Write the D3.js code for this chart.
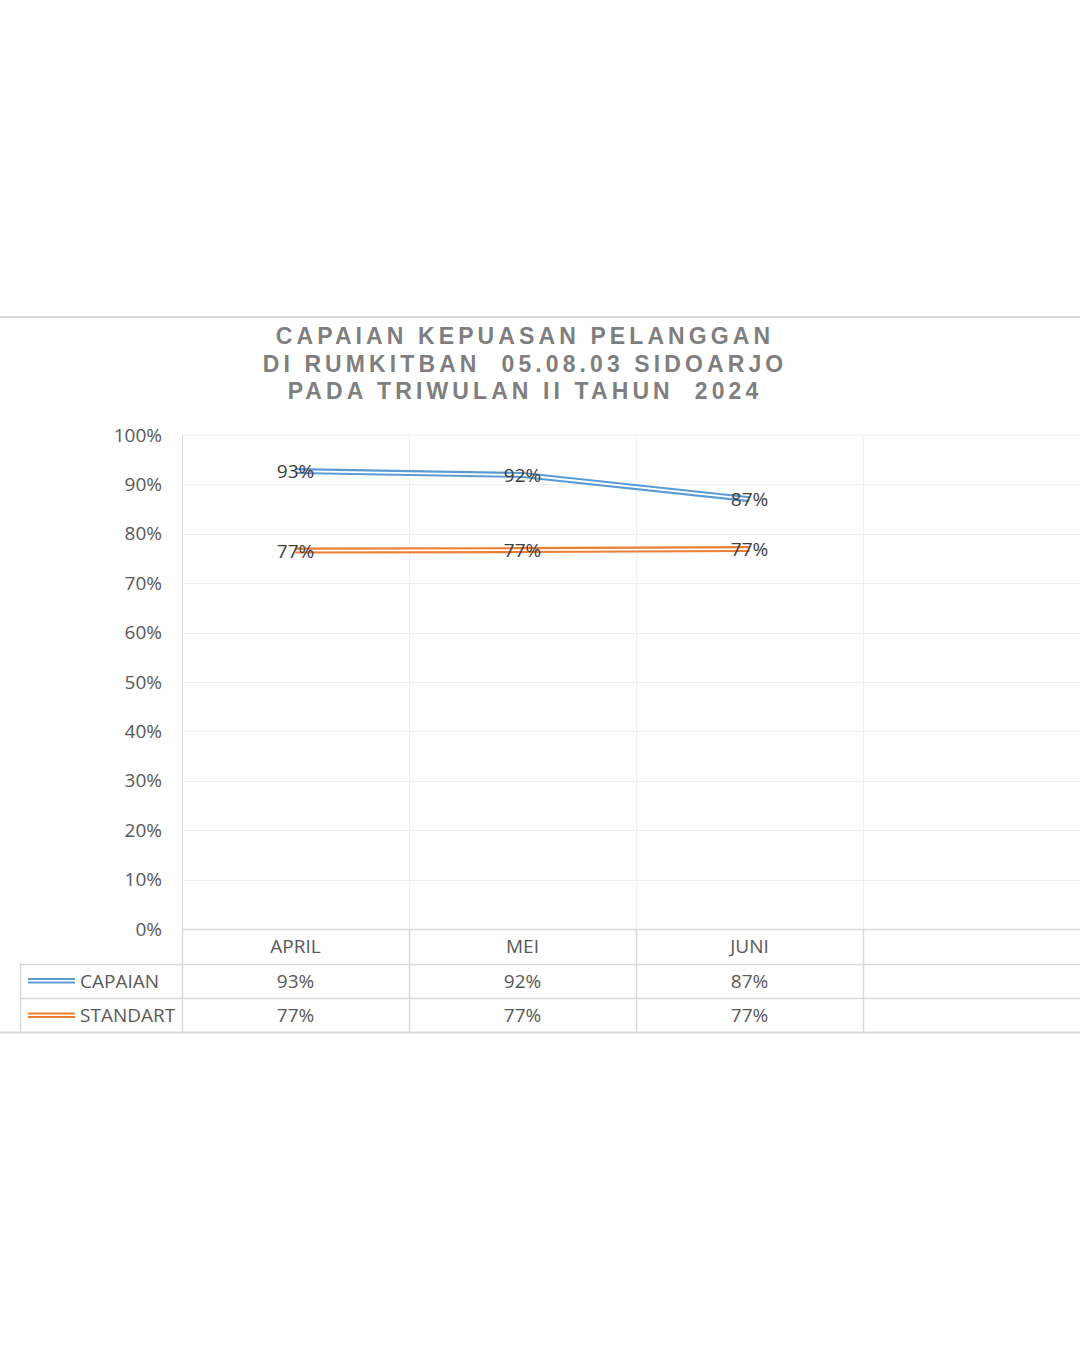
<!DOCTYPE html>
<html>
<head>
<meta charset="utf-8">
<script src="https://cdn.jsdelivr.net/npm/d3@7"></script>
<style>
  body { margin: 0; background: #fff; }
  svg { display: block; }
  .title tspan { white-space: pre; }
</style>
</head>
<body>
<svg id="chart" width="1080" height="1350"></svg>
<script>
// chart values
const categories = ['APRIL', 'MEI', 'JUNI', ''];
const capaian = [0.927, 0.919, 0.870];
const standart = [0.766, 0.767, 0.769];
const seriesNames = ['CAPAIAN', 'STANDART'];
const seriesLabels = [['93%', '92%', '87%'], ['77%', '77%', '77%']];
const yTicks = [0, 0.1, 0.2, 0.3, 0.4, 0.5, 0.6, 0.7, 0.8, 0.9, 1.0];
const titleLines = ['CAPAIAN KEPUASAN PELANGGAN', 'DI RUMKITBAN  05.08.03 SIDOARJO', 'PADA TRIWULAN II TAHUN  2024'];

const COLORS = ['#5b9bd5', '#ed7d31'];
const FONT = '"Open Sans", sans-serif';
const FS = 19;
const GRID = '#efefef';
const TABLE = '#d9d9d9';

const PLOT = {left: 182, right: 1090, top: 435, bottom: 929};
const ROW_H = 34.5;

const svg = d3.select('#chart');

const xScale = d3.scaleBand()
    .domain(categories)
    .range([PLOT.left, PLOT.right]);

const yScale = d3.scaleLinear()
    .domain([0, 1])
    .range([PLOT.bottom, PLOT.top]);

// chart area border (top and bottom visible)
svg.append('line').attr('x1', 0).attr('x2', 1080).attr('y1', 317).attr('y2', 317)
    .attr('stroke', TABLE).attr('stroke-width', 2);
svg.append('line').attr('x1', 0).attr('x2', 1080).attr('y1', 1032.5).attr('y2', 1032.5)
    .attr('stroke', TABLE).attr('stroke-width', 2);

// title
svg.append('text')
    .attr('class', 'title')
    .attr('font-family', 'Arial, "Liberation Sans", sans-serif')
    .attr('font-weight', 'bold')
    .attr('font-size', 23)
    .attr('fill', '#7f7f7f')
    .attr('text-anchor', 'middle')
    .style('letter-spacing', '4.1px')
    .selectAll('tspan')
    .data(titleLines)
    .join('tspan')
    .attr('x', 525)
    .attr('y', (d, i) => 344 + i * 27.5)
    .text(d => d);

// horizontal gridlines
svg.append('g')
    .selectAll('line')
    .data(yTicks.slice(1))
    .join('line')
    .attr('x1', PLOT.left).attr('x2', 1080)
    .attr('y1', d => Math.round(yScale(d)) + 0.5)
    .attr('y2', d => Math.round(yScale(d)) + 0.5)
    .attr('stroke', GRID).attr('stroke-width', 1);

// vertical gridlines at category boundaries
svg.append('g')
    .selectAll('line')
    .data(categories.slice(1))
    .join('line')
    .attr('x1', d => Math.round(xScale(d)) + 0.5)
    .attr('x2', d => Math.round(xScale(d)) + 0.5)
    .attr('y1', PLOT.top).attr('y2', PLOT.bottom)
    .attr('stroke', GRID).attr('stroke-width', 1);

// y axis
const yAxis = d3.axisLeft(yScale)
    .tickValues(yTicks)
    .tickFormat(d3.format('.0%'))
    .tickSize(0)
    .tickPadding(20);
const yG = svg.append('g')
    .attr('transform', `translate(${PLOT.left}, 0)`)
    .call(yAxis);
yG.select('.domain').remove();
yG.selectAll('text')
    .attr('font-family', FONT)
    .attr('font-size', FS)
    .attr('fill', '#595959');

svg.append('line')
    .attr('x1', PLOT.left + 0.5).attr('x2', PLOT.left + 0.5)
    .attr('y1', PLOT.top).attr('y2', PLOT.bottom)
    .attr('stroke', TABLE);

// data table
const tableTop = PLOT.bottom;
const tableG = svg.append('g');
// horizontal table lines
[0, 1, 2].forEach(i => {
    tableG.append('line')
        .attr('x1', i === 0 ? PLOT.left : 20).attr('x2', 1080)
        .attr('y1', Math.round(tableTop + i * ROW_H) + 0.5)
        .attr('y2', Math.round(tableTop + i * ROW_H) + 0.5)
        .attr('stroke', TABLE).attr('stroke-width', 1.5);
});
// vertical table lines
tableG.selectAll('line.col')
    .data(categories)
    .join('line')
    .attr('class', 'col')
    .attr('x1', d => Math.round(xScale(d)) + 0.5)
    .attr('x2', d => Math.round(xScale(d)) + 0.5)
    .attr('y1', tableTop).attr('y2', tableTop + 3 * ROW_H)
    .attr('stroke', TABLE).attr('stroke-width', 1.5);
tableG.append('line')
    .attr('x1', 20.5).attr('x2', 20.5)
    .attr('y1', tableTop + ROW_H).attr('y2', tableTop + 3 * ROW_H)
    .attr('stroke', TABLE).attr('stroke-width', 1.5);

// category header
const xAxis = d3.axisBottom(xScale).tickSize(0).tickPadding(0);
const xG = svg.append('g')
    .attr('transform', `translate(0, ${tableTop})`)
    .call(xAxis);
xG.select('.domain').remove();
xG.selectAll('text')
    .attr('dy', null)
    .attr('y', ROW_H / 2)
    .attr('dominant-baseline', 'central')
    .attr('font-family', FONT)
    .attr('font-size', FS)
    .attr('fill', '#595959');

// table values + legend keys
const seriesData = [capaian, standart];
seriesData.forEach((vals, s) => {
    const rowY = tableTop + ROW_H * (s + 1) + ROW_H / 2;
    tableG.selectAll(`text.v${s}`)
        .data(seriesLabels[s])
        .join('text')
        .attr('class', `v${s}`)
        .attr('x', (d, i) => xScale(categories[i]) + xScale.bandwidth() / 2)
        .attr('y', rowY)
        .attr('dominant-baseline', 'central')
        .attr('text-anchor', 'middle')
        .attr('font-family', FONT)
        .attr('font-size', FS)
        .attr('fill', '#595959')
        .text(d => d);
    // legend key double line
    tableG.append('line')
        .attr('x1', 28).attr('x2', 75).attr('y1', rowY).attr('y2', rowY)
        .attr('stroke', COLORS[s]).attr('stroke-width', 5.5);
    tableG.append('line')
        .attr('x1', 28).attr('x2', 75).attr('y1', rowY).attr('y2', rowY)
        .attr('stroke', '#fff').attr('stroke-width', 1.6);
    tableG.append('text')
        .attr('x', 80).attr('y', rowY)
        .attr('dominant-baseline', 'central')
        .attr('font-family', FONT)
        .attr('font-size', FS)
        .attr('fill', '#595959')
        .text(seriesNames[s]);
});

// lines (double compound style)
const line = d3.line()
    .x((d, i) => xScale(categories[i]) + xScale.bandwidth() / 2)
    .y(d => yScale(d));

const linesG = svg.append('g');
seriesData.forEach((vals, s) => {
    linesG.append('path')
        .datum(vals)
        .attr('d', line)
        .attr('fill', 'none')
        .attr('stroke', COLORS[s])
        .attr('stroke-width', 6);
    linesG.append('path')
        .datum(vals)
        .attr('d', line)
        .attr('fill', 'none')
        .attr('stroke', '#fff')
        .attr('stroke-width', 1.8);
});

// data labels centered on points
seriesData.forEach((vals, s) => {
    svg.append('g')
        .selectAll('text')
        .data(vals)
        .join('text')
        .attr('x', (d, i) => xScale(categories[i]) + xScale.bandwidth() / 2)
        .attr('y', d => yScale(d))
        .attr('dominant-baseline', 'central')
        .attr('text-anchor', 'middle')
        .attr('font-family', FONT)
        .attr('font-size', FS)
        .attr('fill', '#404040')
        .text((d, i) => seriesLabels[s][i]);
});
</script>
</body>
</html>
